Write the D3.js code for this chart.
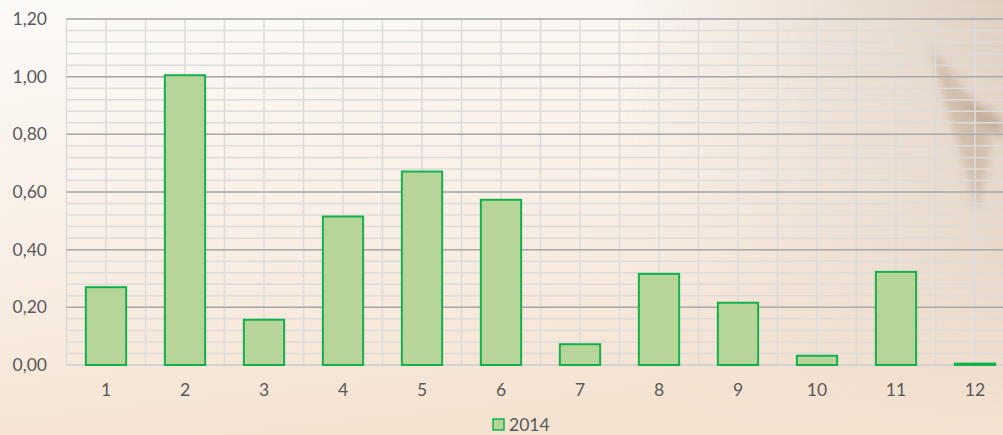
<!DOCTYPE html>
<html>
<head>
<meta charset="utf-8">
<script src="https://cdn.jsdelivr.net/npm/d3@7"></script>
<style>
  html, body { margin: 0; padding: 0; background: #f8ede3; }
  #chart { width: 1003px; height: 435px; overflow: hidden; }
  text { font-family: Lato, "Open Sans", sans-serif; }
</style>
</head>
<body>
<div id="chart"></div>
<script>
// chart data
var months = ['1', '2', '3', '4', '5', '6', '7', '8', '9', '10', '11', '12'];
var values2014 = [0.27, 1.005, 0.157, 0.515, 0.671, 0.573, 0.072, 0.316, 0.216, 0.032, 0.323, 0.005];
var yTicks = [0, 0.2, 0.4, 0.6, 0.8, 1.0, 1.2];
var seriesName = '2014';

var width = 1003, height = 435;
var plot = { left: 66.5, top: 19, bottom: 365 };
var step = 79;
var labelFont = 'Lato, "Open Sans", sans-serif';

var svg = d3.select('#chart').append('svg')
  .attr('width', width)
  .attr('height', height);

// background gradients
var defs = svg.append('defs');
var bg = defs.append('linearGradient')
  .attr('id', 'bg')
  .attr('x1', 0).attr('y1', 0).attr('x2', 0.25).attr('y2', 1);
bg.append('stop').attr('offset', '0%').attr('stop-color', '#fcfaf7');
bg.append('stop').attr('offset', '55%').attr('stop-color', '#f9efe6');
bg.append('stop').attr('offset', '100%').attr('stop-color', '#f5e3d2');

var bgRight = defs.append('linearGradient')
  .attr('id', 'bgRight')
  .attr('x1', 0).attr('y1', 0).attr('x2', 1).attr('y2', 0);
bgRight.append('stop').attr('offset', '0%').attr('stop-color', '#e6d8cb').attr('stop-opacity', 0);
bgRight.append('stop').attr('offset', '50%').attr('stop-color', '#e4d6c9').attr('stop-opacity', 0.6);
bgRight.append('stop').attr('offset', '100%').attr('stop-color', '#dccbbc').attr('stop-opacity', 0.9);

var fadeDown = defs.append('linearGradient')
  .attr('id', 'fadeDown')
  .attr('x1', 0).attr('y1', 0).attr('x2', 0).attr('y2', 1);
fadeDown.append('stop').attr('offset', '0%').attr('stop-color', '#fff').attr('stop-opacity', 1);
fadeDown.append('stop').attr('offset', '60%').attr('stop-color', '#fff').attr('stop-opacity', 0.6);
fadeDown.append('stop').attr('offset', '100%').attr('stop-color', '#fff').attr('stop-opacity', 0);
var fadeMask = defs.append('mask').attr('id', 'fadeMask');
fadeMask.append('rect').attr('width', width).attr('height', height).attr('fill', 'url(#fadeDown)');

defs.append('filter').attr('id', 'blur')
  .attr('x', '-50%').attr('y', '-50%').attr('width', '200%').attr('height', '200%')
  .append('feGaussianBlur').attr('stdDeviation', 5);

svg.append('rect')
  .attr('width', width).attr('height', height)
  .attr('fill', 'url(#bg)');

svg.append('rect')
  .attr('x', 620).attr('width', width - 620).attr('height', height)
  .attr('fill', 'url(#bgRight)')
  .attr('mask', 'url(#fadeMask)');

// darker curved shape on the right
svg.append('path')
  .attr('d', 'M930,45 C950,70 970,95 985,120 C995,145 985,180 976,212 C970,185 962,150 952,125 C945,100 938,75 930,45 Z')
  .attr('fill', '#bda58f')
  .attr('opacity', 0.5)
  .attr('filter', 'url(#blur)');
svg.append('path')
  .attr('d', 'M962,100 C980,105 995,112 1003,120 L1003,140 C990,132 975,120 962,100 Z')
  .attr('fill', '#a88d76')
  .attr('opacity', 0.5)
  .attr('filter', 'url(#blur)');

// scales
var x = d3.scaleBand()
  .domain(months)
  .range([plot.left, plot.left + step * months.length])
  .paddingInner(0.49)
  .paddingOuter(0.245);

var y = d3.scaleLinear()
  .domain([0, 1.2])
  .range([plot.bottom, plot.top]);

var grid = svg.append('g').attr('class', 'grid');

// minor horizontal gridlines
grid.selectAll('line.hminor')
  .data(d3.range(0, 31).map(function(i) { return i * 0.04; }))
  .enter().append('line')
  .attr('class', 'hminor')
  .attr('x1', plot.left).attr('x2', width)
  .attr('y1', function(d) { return y(d); })
  .attr('y2', function(d) { return y(d); })
  .attr('stroke', '#dcdcdc')
  .attr('stroke-width', 1.5);

// vertical gridlines (category edges and centers)
grid.selectAll('line.v')
  .data(d3.range(0, months.length * 2 + 1))
  .enter().append('line')
  .attr('class', 'v')
  .attr('x1', function(d) { return plot.left + d * step / 2; })
  .attr('x2', function(d) { return plot.left + d * step / 2; })
  .attr('y1', plot.top).attr('y2', plot.bottom)
  .attr('stroke', '#dcdcdc')
  .attr('stroke-width', 1.5);

// major horizontal gridlines
grid.selectAll('line.hmajor')
  .data(yTicks)
  .enter().append('line')
  .attr('class', 'hmajor')
  .attr('x1', plot.left).attr('x2', width)
  .attr('y1', function(d) { return y(d); })
  .attr('y2', function(d) { return y(d); })
  .attr('stroke', function(d) { return d === 0 ? '#cfcfcf' : '#a9a9a9'; })
  .attr('stroke-width', 1.5);

// bars
svg.append('g').selectAll('rect')
  .data(values2014)
  .enter().append('rect')
  .attr('x', function(d, i) { return x(months[i]); })
  .attr('y', function(d) { return y(d); })
  .attr('width', x.bandwidth())
  .attr('height', function(d) { return plot.bottom - y(d); })
  .attr('fill', '#b7d499')
  .attr('stroke', '#12b14c')
  .attr('stroke-width', 2);

// y axis labels
var yAxis = d3.axisLeft(y)
  .tickValues(yTicks)
  .tickSize(0)
  .tickPadding(0)
  .tickFormat(function(d) { return d3.format('.2f')(d).replace('.', ','); });

svg.append('g')
  .attr('transform', 'translate(47,0)')
  .call(yAxis)
  .call(function(g) { g.select('.domain').remove(); })
  .selectAll('text')
  .attr('font-size', 17.5)
  .attr('fill', '#595959')
  .style('font-family', labelFont);

// x axis labels
var xAxis = d3.axisBottom(x).tickSize(0).tickPadding(0);
svg.append('g')
  .attr('transform', 'translate(0,' + (plot.bottom + 19) + ')')
  .call(xAxis)
  .call(function(g) { g.select('.domain').remove(); })
  .selectAll('text')
  .attr('font-size', 17.5)
  .attr('fill', '#595959')
  .style('font-family', labelFont);

// legend
var legend = svg.append('g').attr('transform', 'translate(493,419)');
legend.append('rect')
  .attr('width', 11).attr('height', 11)
  .attr('fill', '#b7d499')
  .attr('stroke', '#12b14c')
  .attr('stroke-width', 1.5);
legend.append('text')
  .attr('x', 16).attr('y', 12)
  .attr('font-size', 17.5)
  .attr('fill', '#595959')
  .style('font-family', labelFont)
  .text(seriesName);
</script>
</body>
</html>
